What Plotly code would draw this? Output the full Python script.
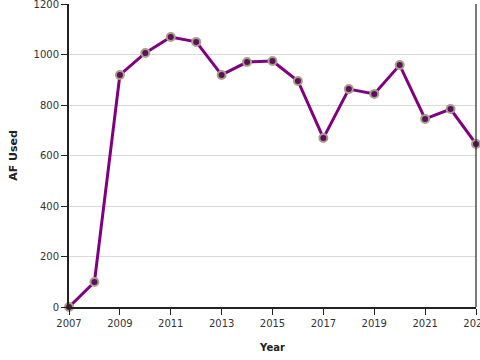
import plotly.graph_objects as go

years = list(range(2007, 2024))
af_used = [0, 99, 919, 1006, 1069, 1050, 919, 970, 974, 895, 669, 863, 844, 958, 745, 784, 646]

fig = go.Figure()
fig.add_trace(go.Scatter(
    x=years, y=af_used, mode="lines+markers",
    line=dict(color="#800080", width=3),
    marker=dict(size=8, color="#5c0f5c", line=dict(color="#a8a088", width=2)),
    cliponaxis=False,
))
fig.update_layout(
    width=480, height=360,
    margin=dict(l=69, r=4, t=4, b=53, autoexpand=False),
    paper_bgcolor="white", plot_bgcolor="white",
    font=dict(family="DejaVu Sans", size=10, color="#333"),
    showlegend=False,
    xaxis=dict(
        range=[2007, 2023], tick0=2007, dtick=2, showgrid=False,
        showline=True, linecolor="#222", linewidth=2,
        ticks="outside", ticklen=6, tickcolor="#222",
        ticklabeloverflow="allow",
        title=dict(text="<b>Year</b>", font=dict(size=10, color="#222"), standoff=16),
        zeroline=False, automargin=False,
    ),
    yaxis=dict(
        range=[0, 1200], dtick=200, showgrid=True, gridcolor="#d9d9d9",
        showline=True, linecolor="#222", linewidth=2,
        ticks="outside", ticklen=6, tickcolor="#222",
        ticklabeloverflow="allow",
        title=dict(text="<b>AF Used</b>", font=dict(size=11, color="#222"), standoff=14),
        zeroline=False, automargin=False,
    ),
    shapes=[dict(type="line", xref="paper", yref="paper", x0=1, x1=1, y0=0, y1=1,
                 line=dict(color="#222", width=1.2))],
)
fig.write_html("out.html", config={"displayModeBar": False},
               post_script="document.body.style.margin='0';document.body.style.overflow='hidden';")
